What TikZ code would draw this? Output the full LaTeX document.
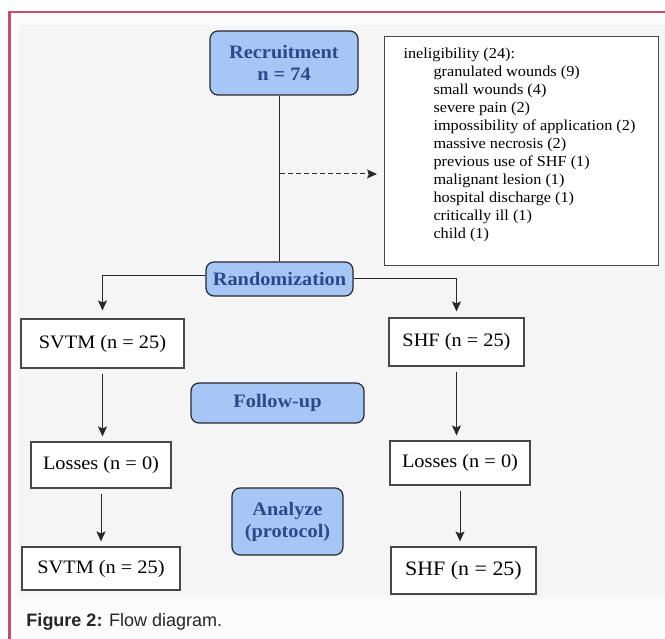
\documentclass[tikz,border=0pt]{standalone}
\usepackage{fontspec}
\setmainfont[FakeStretch=1.07]{Liberation Serif}
\newfontfamily\capfont{Liberation Sans}
\usetikzlibrary{arrows.meta}

\definecolor{stepfill}{RGB}{166,198,246}
\definecolor{steptext}{RGB}{46,72,138}
\definecolor{lineclr}{RGB}{40,40,45}
\definecolor{pagebg}{RGB}{252,251,251}
\definecolor{chartbg}{RGB}{245,245,245}
\definecolor{frameclr}{RGB}{205,75,110}

\tikzset{
	stage/.style={draw=lineclr, line width=1.2pt, fill=stepfill, rounded corners=8pt,
		text=steptext, align=center, font=\fontsize{19}{22}\selectfont\bfseries},
	group/.style={draw=lineclr!85, line width=1.1pt, fill=white, align=center,
		font=\fontsize{19}{22}\selectfont},
}

\begin{document}
\begin{tikzpicture}[x=1pt, y=-1pt, >={Stealth[length=10pt,width=9pt,inset=2pt]}, line width=1pt]
	\useasboundingbox (0,0) rectangle (665,639);
	% Draw the page, the chart area and the frame
	\fill[white] (0,0) rectangle (665,639);
	\fill[pagebg] (10,12) rectangle (665,639);
	\fill[chartbg] (19,25) rectangle (665,597);
	\draw[frameclr, line width=2.5pt] (9.5,639) -- (9.5,12) -- (665,12);
	
	% Draw the stage boxes
	\node[stage, minimum width=148, minimum height=64] (rec) at (284,63) {Recruitment\\n = 74};
	\node[stage, minimum width=147, minimum height=34] (rand) at (279.5,279) {Randomization};
	\node[stage, minimum width=173, minimum height=40] (follow) at (277.5,403) {Follow-up};
	\node[stage, minimum width=111, minimum height=67] (analyze) at (287.5,521.5) {Analyze\\(protocol)};
	
	% Draw the exclusion box
	\node[draw=lineclr!85, line width=1.1pt, fill=white, minimum width=274, minimum height=229,
		anchor=north west] (inel) at (384,36) {};
	\node[anchor=north west, align=left, inner sep=0pt,
		font=\fontsize{15.2}{18}\selectfont] (inellist) at (403,47) {%
		ineligibility (24):\\
		\hspace*{30pt}granulated wounds (9)\\
		\hspace*{30pt}small wounds (4)\\
		\hspace*{30pt}severe pain (2)\\
		\hspace*{30pt}impossibility of application (2)\\
		\hspace*{30pt}massive necrosis (2)\\
		\hspace*{30pt}previous use of SHF (1)\\
		\hspace*{30pt}malignant lesion (1)\\
		\hspace*{30pt}hospital discharge (1)\\
		\hspace*{30pt}critically ill (1)\\
		\hspace*{30pt}child (1)};
	
	% Draw the group boxes of both arms
	\node[group, minimum width=163, minimum height=49] (svtmA) at (102.5,343.5) {SVTM (n = 25)};
	\node[group, minimum width=135, minimum height=48] (shfA) at (456.5,342) {SHF (n = 25)};
	\node[group, minimum width=140, minimum height=46] (lossA) at (101,465) {Losses (n = 0)};
	\node[group, minimum width=140, minimum height=44] (lossB) at (460,463) {Losses (n = 0)};
	\node[group, minimum width=158, minimum height=43] (svtmB) at (101,568.5) {SVTM (n = 25)};
	\node[group, minimum width=145, minimum height=47,
		font=\fontsize{20.5}{24}\selectfont] (shfB) at (463.5,570.5) {SHF (n = 25)};
	
	% Recruitment to randomization, with the excluded patients
	\draw[lineclr] (rand.north) -- (rand.north |- rec.south);
	\coordinate (excl) at (377,174);
	\draw[lineclr, dash pattern=on 5pt off 3pt, ->] (excl -| rand.north) -- (excl);
	
	% Randomization into the two arms
	\draw[lineclr, ->, shorten >=8pt] ([yshift=3pt]rand.west) -| (svtmA.north);
	\draw[lineclr, ->, shorten >=6pt] (rand.east) -| (shfA.north);
	
	% Follow the arms down
	\foreach \a/\b in {svtmA/lossA, lossA/svtmB, shfA/lossB, lossB/shfB} {
		\draw[lineclr, ->, shorten <=5pt, shorten >=5pt] (\a.south) -- (\a.south |- \b.north);
	}
	
	% Caption
	\node[anchor=west, inner sep=0pt, text=black!85, font=\capfont\fontsize{18}{21}\selectfont]
		(caption) at (26,622) {\textbf{Figure 2:} Flow diagram.};
\end{tikzpicture}
\end{document}
